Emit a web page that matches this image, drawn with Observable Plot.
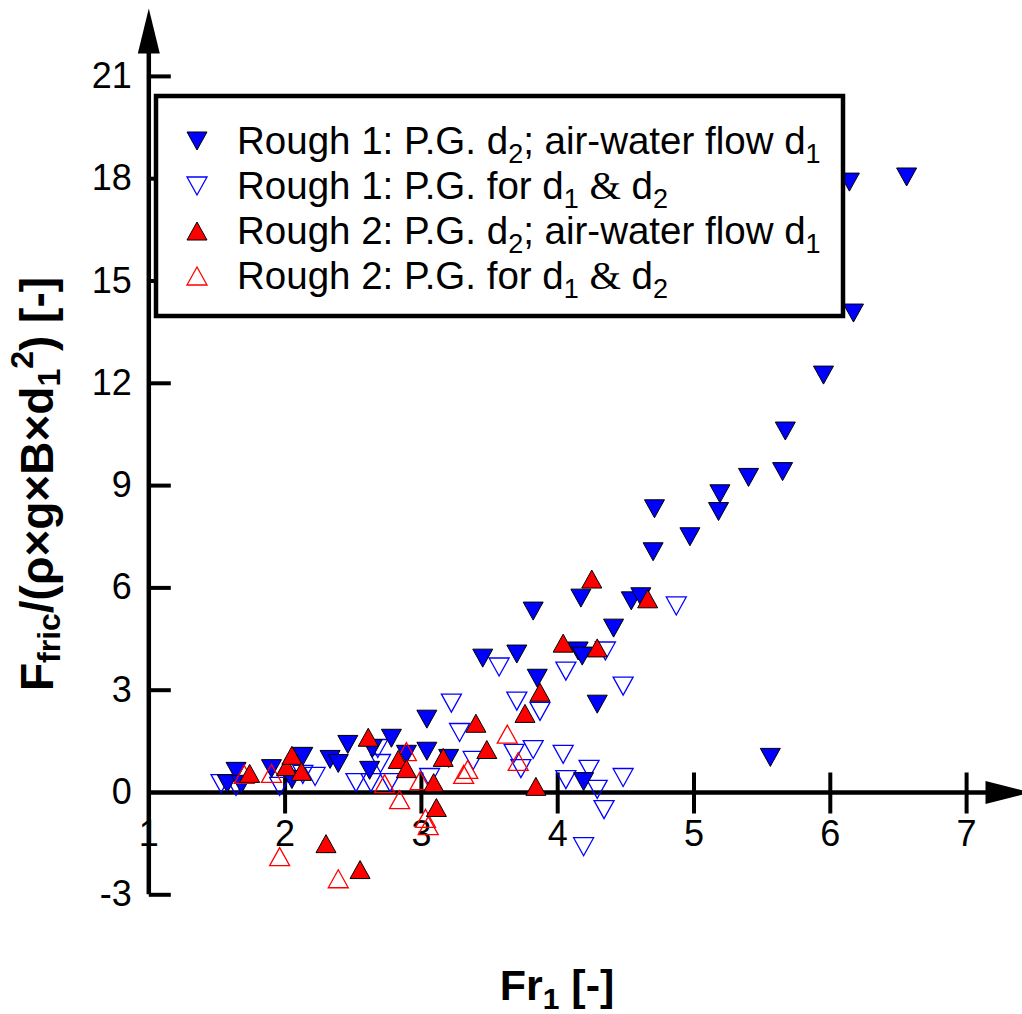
<!DOCTYPE html>
<html>
<head>
<meta charset="utf-8">
<script src="https://cdn.jsdelivr.net/npm/d3@7"></script>
<script src="https://cdn.jsdelivr.net/npm/@observablehq/plot@0.6"></script>
<style>
  body { margin: 0; background: #fff; }
  #chart { position: relative; width: 1022px; height: 1014px; }
</style>
</head>
<body>
<div id="chart"></div>
<script>
// ---- data: [Fr1, Ffric/(rho g B d1^2)] ----
const rough1Air = [
  [1.575,0.26],[1.64,0.62],[1.68,0.24],[1.90,0.70],[2.05,0.38],[2.13,1.06],[2.33,0.97],
  [2.39,0.85],[2.46,1.41],[2.64,1.29],[2.62,0.65],[2.78,1.59],[2.89,1.12],[3.04,2.15],
  [3.04,1.21],[3.20,1.00],[3.45,3.94],[3.70,4.06],[3.82,5.32],[3.85,3.35],[4.15,4.15],
  [4.18,4.00],[4.17,5.70],[4.19,0.32],[4.29,2.59],[4.41,4.82],[4.54,5.62],[4.61,5.74],
  [4.70,7.06],[4.71,8.32],[4.97,7.50],[5.18,8.24],[5.19,8.76],[5.40,9.24],[5.56,1.03],
  [5.65,9.41],[5.67,10.60],[5.95,12.24],[6.17,14.06],[6.14,17.90],[6.56,18.05]
];
const rough1PG = [
  [1.53,0.26],[1.64,0.18],[1.96,0.18],[2.13,0.53],[2.22,0.47],[2.52,0.29],[2.63,0.29],
  [2.77,0.29],[2.68,1.29],[2.70,0.85],[3.06,0.44],[3.22,2.62],[3.28,1.76],[3.38,0.94],
  [3.57,3.68],[3.68,1.15],[3.70,2.68],[3.73,0.70],[3.82,1.26],[3.87,2.38],[4.04,1.12],
  [4.06,3.56],[4.06,0.38],[4.23,0.68],[4.19,-1.59],[4.29,0.09],[4.34,-0.50],[4.35,4.15],
  [4.48,3.12],[4.48,0.44],[4.87,5.47]
];
const rough2Air = [
  [1.74,0.56],[2.01,0.76],[2.05,1.09],[2.12,0.62],[2.30,-1.50],[2.55,-2.26],[2.61,1.62],
  [2.83,0.97],[2.89,0.70],[3.09,0.29],[3.11,-0.44],[3.16,1.03],[3.40,2.03],[3.48,1.26],
  [3.76,2.32],[3.84,0.18],[3.87,2.94],[4.04,4.38],[4.29,4.24],[4.25,6.26],[4.66,5.68]
];
const rough2PG = [
  [1.70,0.53],[1.90,0.56],[1.96,-1.88],[2.39,-2.53],[2.73,0.26],[2.84,-0.21],[2.89,1.20],
  [2.99,0.35],[3.03,-0.76],[3.05,-0.97],[3.31,0.53],[3.34,0.68],[3.63,1.71],[3.71,0.91]
];

const xTicks = [2, 3, 4, 5, 6, 7];
const xTickLabels = [1, 2, 3, 4, 5, 6, 7];
const yTicks = [-3, 3, 6, 9, 12, 15, 18, 21];
const yTickLabels = [-3, 0, 3, 6, 9, 12, 15, 18, 21];
const legendLabels = [
  "Rough 1: P.G. d_{2}; air-water flow d_{1}",
  "Rough 1: P.G. for d_{1} & d_{2}",
  "Rough 2: P.G. d_{2}; air-water flow d_{1}",
  "Rough 2: P.G. for d_{1} & d_{2}"
];
const xLabel = "Fr_{1} [-]";
const yLabel = "F_{fric}/(ρ×g×B×d_{1}^{2}) [-]";

// ---- layout ----
const W = 1022, H = 1014;
const X0px = 148.3, pxPerX = 136.3, Y0px = 792, pxPerY = 34.1, topPx = 8;
const xMax = 1 + (W - X0px) / pxPerX;
const yMin = -3, yMax = (Y0px - topPx) / pxPerY;
const yBottomPx = Y0px - yMin * pxPerY;

// ---- symbols ----
const triDown = {draw(ctx, size) {
  const r = Math.sqrt(size / Math.PI), hw = r, hh = 0.9 * r;
  ctx.moveTo(-hw, -hh); ctx.lineTo(hw, -hh); ctx.lineTo(0, hh); ctx.closePath();
}};
const triUp = {draw(ctx, size) {
  const r = Math.sqrt(size / Math.PI), hw = r, hh = 0.9 * r;
  ctx.moveTo(-hw, hh); ctx.lineTo(hw, hh); ctx.lineTo(0, -hh); ctx.closePath();
}};
const arrowUp = {draw(ctx) { ctx.moveTo(0, 0); ctx.lineTo(-11, 45); ctx.lineTo(11, 45); ctx.closePath(); }};
const arrowRight = {draw(ctx) { ctx.moveTo(8, 0); ctx.lineTo(-37, -11.5); ctx.lineTo(-37, 11.5); ctx.closePath(); }};
const xTickSym = {draw(ctx) { ctx.moveTo(0, -20); ctx.lineTo(0, 21); }};
const yTickSym = {draw(ctx) { ctx.moveTo(0, 0); ctx.lineTo(22, 0); }};

const BLUE = "#0000ff", RED = "#ff0000";
const R = 10;

const svg = Plot.plot({
  width: W, height: H,
  marginLeft: X0px, marginRight: 0, marginTop: topPx, marginBottom: H - yBottomPx,
  x: {domain: [1, xMax], axis: null},
  y: {domain: [yMin, yMax], axis: null},
  style: {fontFamily: "'Liberation Sans', Arial, sans-serif", background: "white", overflow: "visible"},
  marks: [
    // axes
    Plot.ruleY([0], {x1: 1, x2: xMax - 0.2, stroke: "black", strokeWidth: 4.5}),
    Plot.ruleX([1], {y1: yMin, y2: 21.7, stroke: "black", strokeWidth: 4.5}),
    Plot.dot([0], {x: 1, y: yMax, symbol: arrowUp, fill: "black", stroke: "none"}),
    Plot.dot([0], {x: xMax, y: 0, symbol: arrowRight, fill: "black", stroke: "none"}),
    Plot.dot(xTicks, {x: d => d, y: 0, symbol: xTickSym, fill: "none", stroke: "black", strokeWidth: 4}),
    Plot.dot(yTicks, {x: 1, y: d => d, symbol: yTickSym, fill: "none", stroke: "black", strokeWidth: 4}),
    Plot.text(xTickLabels, {x: d => d, y: 0, dy: 42, text: d => String(d), fontSize: 36, fill: "black"}),
    Plot.text(yTickLabels, {x: 1, y: d => d, dx: -17, text: d => String(d), textAnchor: "end", fontSize: 36, fill: "black"}),
    // data
    Plot.dot(rough1PG, {x: d => d[0], y: d => d[1], symbol: triDown, r: R, fill: "none", stroke: BLUE, strokeWidth: 1.3}),
    Plot.dot(rough1Air, {x: d => d[0], y: d => d[1], symbol: triDown, r: R, fill: BLUE, stroke: "black", strokeWidth: 1}),
    Plot.dot(rough2PG, {x: d => d[0], y: d => d[1], symbol: triUp, r: R, fill: "none", stroke: RED, strokeWidth: 1.3}),
    Plot.dot(rough2Air, {x: d => d[0], y: d => d[1], symbol: triUp, r: R, fill: RED, stroke: "black", strokeWidth: 1})
  ]
});

// ---- rich text helper (sub/superscripts) ----
function rich(textSel, str, size, subSize, subShift, supShift, serifAmp) {
  textSel.attr("font-size", size);
  const parts = str.split(/(_\{[^}]*\}|\^\{[^}]*\})/).filter(s => s.length);
  let off = 0;
  for (const p of parts) {
    let target = 0, txt = p, fs = size;
    if (p.startsWith("_{")) { target = subShift; txt = p.slice(2, -1); fs = subSize; }
    else if (p.startsWith("^{")) { target = supShift; txt = p.slice(2, -1); fs = subSize; }
    const pieces = serifAmp ? txt.split(/(&)/).filter(s => s.length) : [txt];
    let first = true;
    for (const piece of pieces) {
      const t = textSel.append("tspan").attr("font-size", fs).text(piece);
      if (first) { t.attr("dy", target - off); off = target; first = false; }
      if (piece === "&") t.attr("font-family", "'Liberation Serif', 'Times New Roman', serif").attr("font-size", fs * 1.05);
    }
  }
}

const s = d3.select(svg);
// y axis title
const yt = s.append("text")
  .attr("transform", "translate(53,484) rotate(-90)")
  .attr("text-anchor", "middle").attr("font-weight", "bold").attr("fill", "black");
rich(yt, yLabel, 46, 32, 7, -20, false);
// x axis title
const xt = s.append("text")
  .attr("x", 557).attr("y", 1000)
  .attr("text-anchor", "middle").attr("font-weight", "bold").attr("fill", "black");
rich(xt, xLabel, 43, 30, 9, -19, false);

// legend
const lg = s.append("g");
lg.append("rect").attr("x", 156).attr("y", 96).attr("width", 687).attr("height", 220)
  .attr("fill", "white").attr("stroke", "black").attr("stroke-width", 4.5);
const legendStyles = [
  {sym: triDown, fill: BLUE, stroke: "black", sw: 1},
  {sym: triDown, fill: "none", stroke: BLUE, sw: 1.3},
  {sym: triUp, fill: RED, stroke: "black", sw: 1},
  {sym: triUp, fill: "none", stroke: RED, sw: 1.3}
];
legendLabels.forEach((lab, i) => {
  const cy = 141 + 45 * i;
  const st = legendStyles[i];
  lg.append("path").attr("transform", `translate(197,${cy})`)
    .attr("d", d3.symbol(st.sym, Math.PI * R * R)())
    .attr("fill", st.fill).attr("stroke", st.stroke).attr("stroke-width", st.sw);
  const t = lg.append("text").attr("x", 237).attr("y", cy + 13)
    .attr("text-anchor", "start").attr("fill", "black");
  rich(t, lab, 38.5, 27, 9, -14, true);
});

document.getElementById("chart").appendChild(svg);
</script>
</body>
</html>
